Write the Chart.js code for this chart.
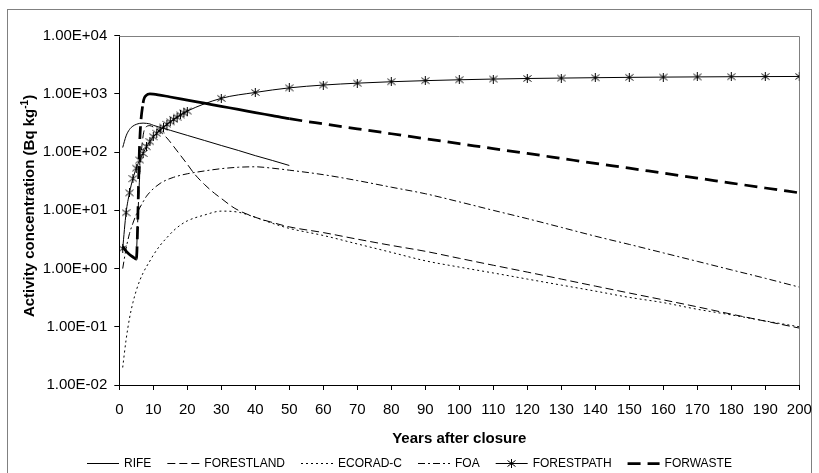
<!DOCTYPE html>
<html>
<head>
<meta charset="utf-8">
<script src="https://cdn.jsdelivr.net/npm/chart.js@4/dist/chart.umd.min.js"></script>
<style>
  html, body { margin: 0; padding: 0; background: #ffffff; }
  #wrap { width: 819px; height: 473px; }
</style>
</head>
<body>
<div id="wrap"><canvas id="chart" width="819" height="473"></canvas></div>
<script>
// Activity concentration (Bq/kg) over years after closure, one pair of arrays per model
const rifeYears = [1, 2, 3, 4, 5, 6, 7, 8, 9, 10, 15, 20, 25, 30, 35, 40, 45, 50];
const rifeValues = [120, 190, 245, 280, 300, 312, 315, 312, 305, 289, 237, 194, 159, 130, 107, 87, 72, 59];

const forestlandYears = [5, 6, 7, 8, 9, 10, 12, 14, 16, 18, 20, 22, 25, 28, 30, 34, 40, 45, 50,
  60, 70, 80, 90, 100, 110, 120, 130, 140, 150, 160, 170, 180, 190, 200];
const forestlandValues = [1.5, 40, 190, 275, 285, 270, 225, 175, 125, 88, 62, 43, 28, 19.6, 16, 10.8, 7.6, 6.2, 5.2,
  4.15, 3.2, 2.5, 1.98, 1.5, 1.14, 0.87, 0.66, 0.5, 0.38, 0.29, 0.22, 0.165, 0.125, 0.095];

const ecoradYears = [1, 2, 3, 4, 5, 6, 7, 8, 9, 10, 12, 14, 16, 18, 20, 25, 30, 35, 40, 45, 50,
  60, 70, 80, 90, 100, 110, 120, 130, 140, 150, 160, 170, 180, 190, 200];
const ecoradValues = [0.02, 0.06, 0.14, 0.26, 0.42, 0.62, 0.84, 1.08, 1.35, 1.7, 2.5, 3.4, 4.5, 5.6, 6.6, 8.3, 9.7, 9.3, 7.6, 6.0, 4.9,
  3.7, 2.65, 1.9, 1.36, 1.06, 0.84, 0.66, 0.52, 0.41, 0.32, 0.26, 0.2, 0.16, 0.126, 0.1];

const foaYears = [1, 2, 3, 4, 5, 6, 7, 8, 9, 10, 12, 14, 16, 18, 20, 25, 30, 35, 40, 45, 50,
  60, 70, 80, 90, 100, 110, 120, 130, 140, 150, 160, 170, 180, 190, 200];
const foaValues = [1.0, 2.2, 4.0, 6.0, 8.5, 11, 14, 17.5, 20.5, 23.5, 29, 33.5, 37, 40, 42.5, 47.5, 52, 55, 56, 53, 49,
  41, 32.5, 25, 19.3, 14, 10, 7.2, 5.1, 3.6, 2.6, 1.86, 1.33, 0.95, 0.68, 0.48];

const forestpathYears = [1, 2, 3, 4, 5, 6, 7, 8, 9, 10, 11, 12, 13, 14, 15, 16, 17, 18, 19, 20,
  30, 40, 50, 60, 70, 80, 90, 100, 110, 120, 130, 140, 150, 160, 170, 180, 190, 200];
const forestpathValues = [2.2, 9.1, 20, 35, 53, 73, 95, 124, 151, 184, 211, 240, 269, 300, 332, 365, 399, 435, 471, 508,
  840, 1060, 1270, 1420, 1530, 1620, 1690, 1750, 1800, 1840, 1870, 1900, 1925, 1945, 1960, 1975, 1985, 1995];

const forwasteYears = [1, 2, 3, 4, 5, 6, 7, 8, 9, 10, 15, 20, 25, 30, 35, 40, 45, 50,
  60, 70, 80, 90, 100, 110, 120, 130, 140, 150, 160, 170, 180, 190, 200];
const forwasteValues = [2.4, 2.0, 1.75, 1.58, 1.45, 150, 700, 950, 1000, 995, 885, 782, 692, 612, 542, 479, 424, 375,
  306, 252, 207, 170, 140, 115, 95, 78, 64, 53, 43.5, 35.8, 29.4, 24.2, 20];

const yTickValues = [0.01, 0.1, 1, 10, 100, 1000, 10000];
const xTitle = 'Years after closure';
const yTitleMain = 'Activity concentration (Bq kg';
const yTitleSup = '-1';
const yTitleEnd = ')';

const FONT = "'Liberation Sans', Arial, Helvetica, sans-serif";
const WASTE_DASH = [13, 7];

function pairs(xs, ys) { return xs.map((x, i) => ({ x: x, y: ys[i] })); }

function sci(v) {
  const e = Math.round(Math.log10(v));
  const m = v / Math.pow(10, e);
  const ee = String(Math.abs(e)).padStart(2, '0');
  return m.toFixed(2) + 'E' + (e < 0 ? '-' : '+') + ee;
}

// asterisk marker (x with a vertical bar)
function makeAsterisk() {
  const c = document.createElement('canvas');
  c.width = 9; c.height = 9;
  const g = c.getContext('2d');
  g.strokeStyle = '#000';
  g.lineWidth = 1;
  g.beginPath();
  g.moveTo(4.5, 0); g.lineTo(4.5, 9);
  g.moveTo(0.5, 1.5); g.lineTo(8.5, 7.5);
  g.moveTo(0.5, 7.5); g.lineTo(8.5, 1.5);
  g.stroke();
  return c;
}
const asterisk = makeAsterisk();

const datasets = [
  { label: 'RIFE', data: pairs(rifeYears, rifeValues), borderColor: '#000', borderWidth: 1, borderDash: [], pointRadius: 0 },
  { label: 'FORESTLAND', data: pairs(forestlandYears, forestlandValues), borderColor: '#000', borderWidth: 1, borderDash: [8, 4], pointRadius: 0 },
  { label: 'ECORAD-C', data: pairs(ecoradYears, ecoradValues), borderColor: '#000', borderWidth: 1, borderDash: [2, 3], pointRadius: 0 },
  { label: 'FOA', data: pairs(foaYears, foaValues), borderColor: '#000', borderWidth: 1, borderDash: [7, 3, 2, 3], pointRadius: 0 },
  { label: 'FORESTPATH', data: pairs(forestpathYears, forestpathValues), borderColor: '#000', borderWidth: 1, borderDash: [],
    pointStyle: asterisk, pointRadius: 4, pointBorderWidth: 1 },
  { label: 'FORWASTE', data: pairs(forwasteYears, forwasteValues), borderColor: '#000', borderWidth: 2.75, borderDash: [],
    pointRadius: 0,
    segment: {
      borderDash: c => (c.p0.parsed.x >= 50 || c.p1.parsed.y > 3 * c.p0.parsed.y) ? WASTE_DASH : undefined
    },
    legendDash: WASTE_DASH }
];

const decor = {
  id: 'decor',
  beforeDraw(chart) {
    const ctx = chart.ctx;
    ctx.save();
    ctx.fillStyle = '#ffffff';
    ctx.fillRect(0, 0, chart.width, chart.height);
    ctx.strokeStyle = '#808080';
    ctx.lineWidth = 1;
    ctx.strokeRect(7.5, 9.5, chart.width - 15, chart.height + 10);
    ctx.restore();
  },
  beforeDatasetsDraw(chart) {
    const { ctx, chartArea: a } = chart;
    ctx.save();
    ctx.strokeStyle = '#808080';
    ctx.lineWidth = 1;
    const t = Math.round(a.top) + 0.5, r = Math.round(a.right) + 0.5;
    ctx.beginPath();
    ctx.moveTo(a.left, t);
    ctx.lineTo(r, t);
    ctx.lineTo(r, a.bottom);
    ctx.stroke();
    ctx.restore();
  },
  afterDraw(chart) {
    const { ctx, chartArea: a } = chart;
    ctx.save();
    ctx.fillStyle = '#000';

    // x axis title
    ctx.font = 'bold 15px ' + FONT;
    ctx.textAlign = 'center';
    ctx.textBaseline = 'middle';
    ctx.fillText(xTitle, (a.left + a.right) / 2, 439);

    // y axis title with superscript unit
    ctx.save();
    ctx.translate(30, 206);
    ctx.rotate(-Math.PI / 2);
    ctx.textAlign = 'left';
    const mainFont = 'bold 15px ' + FONT, supFont = 'bold 10px ' + FONT;
    ctx.font = mainFont;
    const w1 = ctx.measureText(yTitleMain).width;
    const w3 = ctx.measureText(yTitleEnd).width;
    ctx.font = supFont;
    const w2 = ctx.measureText(yTitleSup).width;
    let x0 = -(w1 + w2 + w3) / 2;
    ctx.font = mainFont;
    ctx.fillText(yTitleMain, x0, 0);
    ctx.font = supFont;
    ctx.fillText(yTitleSup, x0 + w1, -5);
    ctx.font = mainFont;
    ctx.fillText(yTitleEnd, x0 + w1 + w2, 0);
    ctx.restore();

    // legend
    const sampleLen = 32, textGap = 5, itemGap = 16, ly = 463;
    ctx.font = '12px ' + FONT;
    ctx.textAlign = 'left';
    ctx.textBaseline = 'middle';
    const items = chart.data.datasets.map(ds => ({ ds, w: ctx.measureText(ds.label).width }));
    const total = items.reduce((s, it) => s + sampleLen + textGap + it.w, 0) + itemGap * (items.length - 1);
    let x = Math.round((chart.width - total) / 2);
    items.forEach(it => {
      const ds = it.ds;
      ctx.save();
      ctx.strokeStyle = '#000';
      ctx.lineWidth = ds.borderWidth;
      ctx.setLineDash(ds.legendDash || ds.borderDash || []);
      ctx.beginPath();
      ctx.moveTo(x, ly + 0.5);
      ctx.lineTo(x + sampleLen, ly + 0.5);
      ctx.stroke();
      ctx.restore();
      if (ds.pointStyle && typeof ds.pointStyle === 'object') {
        ctx.drawImage(ds.pointStyle, Math.round(x + sampleLen / 2 - 4.5), Math.round(ly - 4));
      }
      ctx.fillStyle = '#000';
      ctx.fillText(ds.label, x + sampleLen + textGap, ly + 1);
      x += sampleLen + textGap + it.w + itemGap;
    });
    ctx.restore();
  }
};

new Chart(document.getElementById('chart'), {
  type: 'line',
  data: { datasets },
  plugins: [decor],
  options: {
    responsive: false,
    animation: false,
    devicePixelRatio: 1,
    layout: { padding: { top: 35.7, right: 19.7, bottom: 0, left: 0 } },
    plugins: { legend: { display: false }, tooltip: { enabled: false } },
    elements: { line: { cubicInterpolationMode: 'monotone' } },
    scales: {
      x: {
        type: 'linear', min: 0, max: 200,
        ticks: { stepSize: 10, autoSkip: false, maxRotation: 0, color: '#000', padding: 11,
                 font: { family: FONT, size: 15 } },
        grid: { drawOnChartArea: false, drawTicks: true, tickLength: 5, tickColor: '#000' },
        border: { color: '#000', width: 1 },
        afterFit(scale) { scale.height = 88; scale.paddingLeft = 0; scale.paddingRight = 0; }
      },
      y: {
        type: 'logarithmic', min: 0.01, max: 10000,
        afterBuildTicks(scale) { scale.ticks = yTickValues.map(v => ({ value: v, major: true })); },
        ticks: { color: '#000', padding: 7, font: { family: FONT, size: 15 }, callback: v => sci(v) },
        grid: { drawOnChartArea: false, drawTicks: true, tickLength: 5, tickColor: '#000' },
        border: { color: '#000', width: 1 },
        afterFit(scale) { scale.width = 119.3; scale.paddingTop = 0; scale.paddingBottom = 0; }
      }
    }
  }
});
</script>
</body>
</html>
